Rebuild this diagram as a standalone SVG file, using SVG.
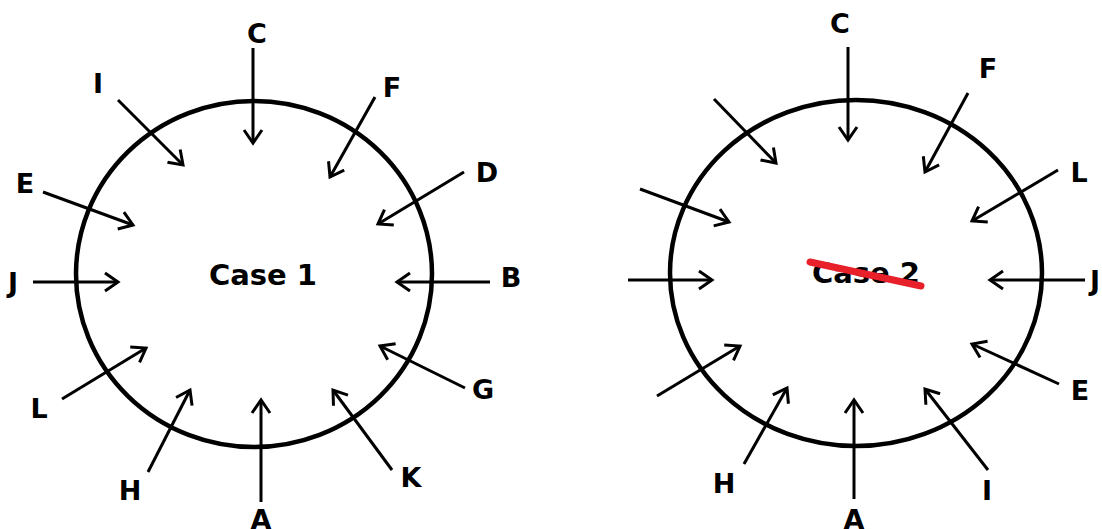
<svg xmlns="http://www.w3.org/2000/svg" width="1102" height="529" viewBox="0 0 1102 529">
<defs>
<marker id="ah" markerUnits="userSpaceOnUse" markerWidth="24" markerHeight="24" refX="14" refY="10" orient="auto" viewBox="0 0 24 20">
<path d="M1,1 L14,10 L1,19" fill="none" stroke="#000" stroke-width="3"/>
</marker>
<style>
.ring{fill:none;stroke:#000;stroke-width:4.5}
.ar{stroke:#000;stroke-width:3;fill:none;marker-end:url(#ah)}
.lb{font-family:"DejaVu Sans",Verdana,sans-serif;font-weight:bold;font-size:27px;fill:#000;text-anchor:middle}
.cs{font-family:"DejaVu Sans",Verdana,sans-serif;font-weight:bold;font-size:29px;fill:#000;text-anchor:middle}
</style>
</defs>
<rect width="1102" height="529" fill="#fff"/>
<g id="case1">
<ellipse class="ring" cx="254" cy="274" rx="178" ry="173"/>
<text class="cs" x="263" y="285">Case 1</text>
</g>
<g id="case2">
<ellipse class="ring" cx="856" cy="273" rx="186" ry="173"/>
<text class="cs" x="866" y="283">Case 2</text>
<line x1="810" y1="262" x2="921" y2="286" stroke="#e8202a" stroke-width="7" stroke-linecap="round"/>
</g>
<g id="labels1">
<text class="lb" x="257" y="43">C</text>
<text class="lb" x="98" y="93">I</text>
<text class="lb" x="392" y="97">F</text>
<text class="lb" x="487" y="182">D</text>
<text class="lb" x="25" y="193">E</text>
<text class="lb" x="13" y="292">J</text>
<text class="lb" x="511" y="287">B</text>
<text class="lb" x="39" y="418">L</text>
<text class="lb" x="483" y="399">G</text>
<text class="lb" x="130" y="500">H</text>
<text class="lb" x="261" y="529">A</text>
<text class="lb" x="411" y="487">K</text>
</g>
<g id="labels2">
<text class="lb" x="840" y="33">C</text>
<text class="lb" x="988" y="78">F</text>
<text class="lb" x="1079" y="182">L</text>
<text class="lb" x="1090" y="290" style="text-anchor:start">J</text>
<text class="lb" x="1080" y="400">E</text>
<text class="lb" x="724" y="493">H</text>
<text class="lb" x="854" y="529">A</text>
<text class="lb" x="987" y="500">I</text>
</g>
<g id="connectors">
<line class="ar" x1="253" y1="48" x2="253" y2="143"/>
<line class="ar" x1="118" y1="100" x2="183" y2="165"/>
<line class="ar" x1="375" y1="97" x2="330" y2="177"/>
<line class="ar" x1="464" y1="172" x2="378" y2="224"/>
<line class="ar" x1="43" y1="192" x2="133" y2="225"/>
<line class="ar" x1="33" y1="282" x2="118" y2="282"/>
<line class="ar" x1="490" y1="282" x2="397" y2="282"/>
<line class="ar" x1="62" y1="399" x2="146" y2="348"/>
<line class="ar" x1="465" y1="388" x2="380" y2="346"/>
<line class="ar" x1="148" y1="472" x2="190" y2="390"/>
<line class="ar" x1="261" y1="502" x2="261" y2="400"/>
<line class="ar" x1="392" y1="470" x2="333" y2="390"/>
<line class="ar" x1="848" y1="47" x2="848" y2="140"/>
<line class="ar" x1="714" y1="99" x2="776" y2="163"/>
<line class="ar" x1="968" y1="93" x2="925" y2="172"/>
<line class="ar" x1="640" y1="189" x2="729" y2="222"/>
<line class="ar" x1="1058" y1="170" x2="972" y2="221"/>
<line class="ar" x1="628" y1="280" x2="712" y2="280"/>
<line class="ar" x1="1085" y1="280" x2="990" y2="280"/>
<line class="ar" x1="657" y1="396" x2="740" y2="346"/>
<line class="ar" x1="1059" y1="384" x2="972" y2="344"/>
<line class="ar" x1="744" y1="464" x2="787" y2="388"/>
<line class="ar" x1="854" y1="499" x2="854" y2="400"/>
<line class="ar" x1="988" y1="470" x2="925" y2="389"/>
</g>
</svg>
